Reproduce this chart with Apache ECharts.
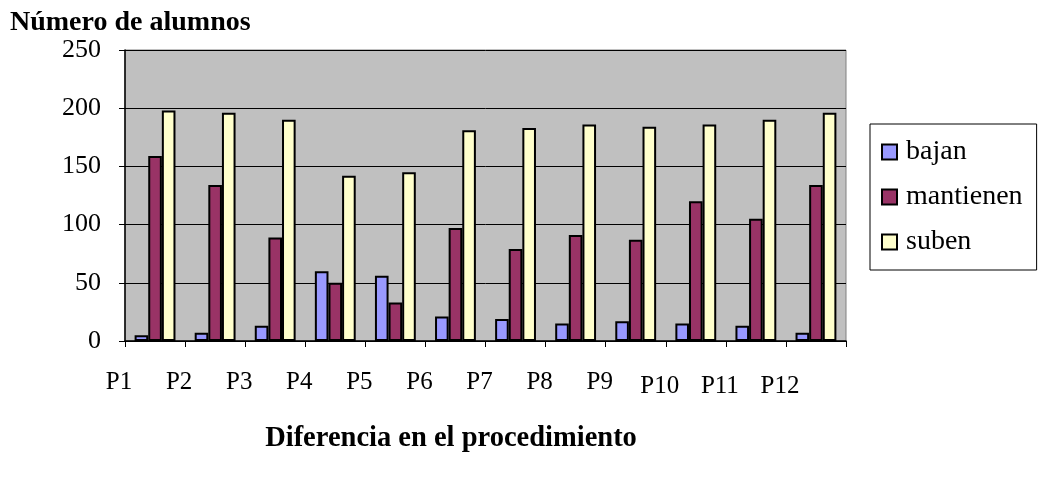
<!DOCTYPE html>
<html>
<head>
<meta charset="utf-8">
<script src="https://cdn.jsdelivr.net/npm/echarts@6/dist/echarts.min.js"></script>
<style>html,body{margin:0;padding:0;background:#fff}#c{width:1043px;height:477px}</style>
</head>
<body>
<div id="c"></div>
<script>
var categories = ['P1','P2','P3','P4','P5','P6','P7','P8','P9','P10','P11','P12'];
var bajan     = [5, 7, 13, 60, 56, 21, 19, 15, 17, 15, 13, 7];
var mantienen = [159, 134, 89, 50, 33, 97, 79, 91, 87, 120, 105, 134];
var suben     = [198, 196, 190, 142, 145, 181, 183, 186, 184, 186, 190, 196];
var seriesNames = ['bajan', 'mantienen', 'suben'];
var yTicks = [0, 50, 100, 150, 200, 250];

var FONT = '"Liberation Serif", "Times New Roman", serif';
var chart = echarts.init(document.getElementById('c'), null, {renderer: 'canvas'});
var colors = ['#9999FF', '#993366', '#FFFFCC'];
var data = [bajan, mantienen, suben];

chart.setOption({
  animation: false,
  backgroundColor: '#ffffff',
  title: [
    {text: 'Número de alumnos', left: 5, top: 4,
     textStyle: {fontFamily: FONT, fontSize: 28, fontWeight: 'bold', color: '#000'}},
    {text: 'Diferencia en el procedimiento', left: 446, top: 419, textAlign: 'center',
     textStyle: {fontFamily: FONT, fontSize: 28.5, fontWeight: 'bold', color: '#000'}}
  ],
  legend: {
    orient: 'vertical',
    left: 870, top: 124,
    padding: [13, 14, 13, 11],
    itemGap: 15,
    itemWidth: 15, itemHeight: 15,
    borderColor: '#000', borderWidth: 1,
    backgroundColor: '#fff',
    icon: 'rect',
    textStyle: {fontFamily: FONT, fontSize: 28, color: '#000', lineHeight: 30, padding: [0,0,0,4]},
    data: seriesNames
  },
  grid: {
    left: 125, right: 197, top: 50, bottom: 136,
    show: true, backgroundColor: '#C0C0C0', borderColor: '#808080', borderWidth: 1
  },
  xAxis: {
    type: 'category',
    data: categories,
    boundaryGap: true,
    axisLine: {lineStyle: {color: '#000', width: 1.5}},
    axisTick: {show: true, interval: 0, length: 6, lineStyle: {color: '#000'}},
    axisLabel: {
      interval: 0, margin: 29, color: '#000', fontFamily: FONT, fontSize: 25,
      padding: [0, 72, 0, 0],
      formatter: function (v, i) { return i >= 9 ? '{b|' + v + '}' : '{a|' + v + '}'; },
      rich: {
        a: {fontFamily: FONT, fontSize: 25, color: '#000'},
        b: {fontFamily: FONT, fontSize: 25, color: '#000', padding: [4, 0, 0, 0]}
      }
    }
  },
  yAxis: {
    type: 'value',
    min: yTicks[0], max: yTicks[yTicks.length - 1], interval: 50,
    axisLine: {show: true, lineStyle: {color: '#000', width: 1.5}},
    axisTick: {show: true, length: 6, lineStyle: {color: '#000'}},
    axisLabel: {color: '#000', fontFamily: FONT, fontSize: 26, margin: 24},
    splitLine: {show: true, lineStyle: {color: '#000', width: 1}}
  },
  series: seriesNames.map(function (n, i) {
    return {
      name: n, type: 'bar', data: data[i],
      barGap: '0%', barCategoryGap: '32%',
      itemStyle: {color: colors[i], borderColor: '#000', borderWidth: 2}
    };
  })
});
</script>
</body>
</html>
